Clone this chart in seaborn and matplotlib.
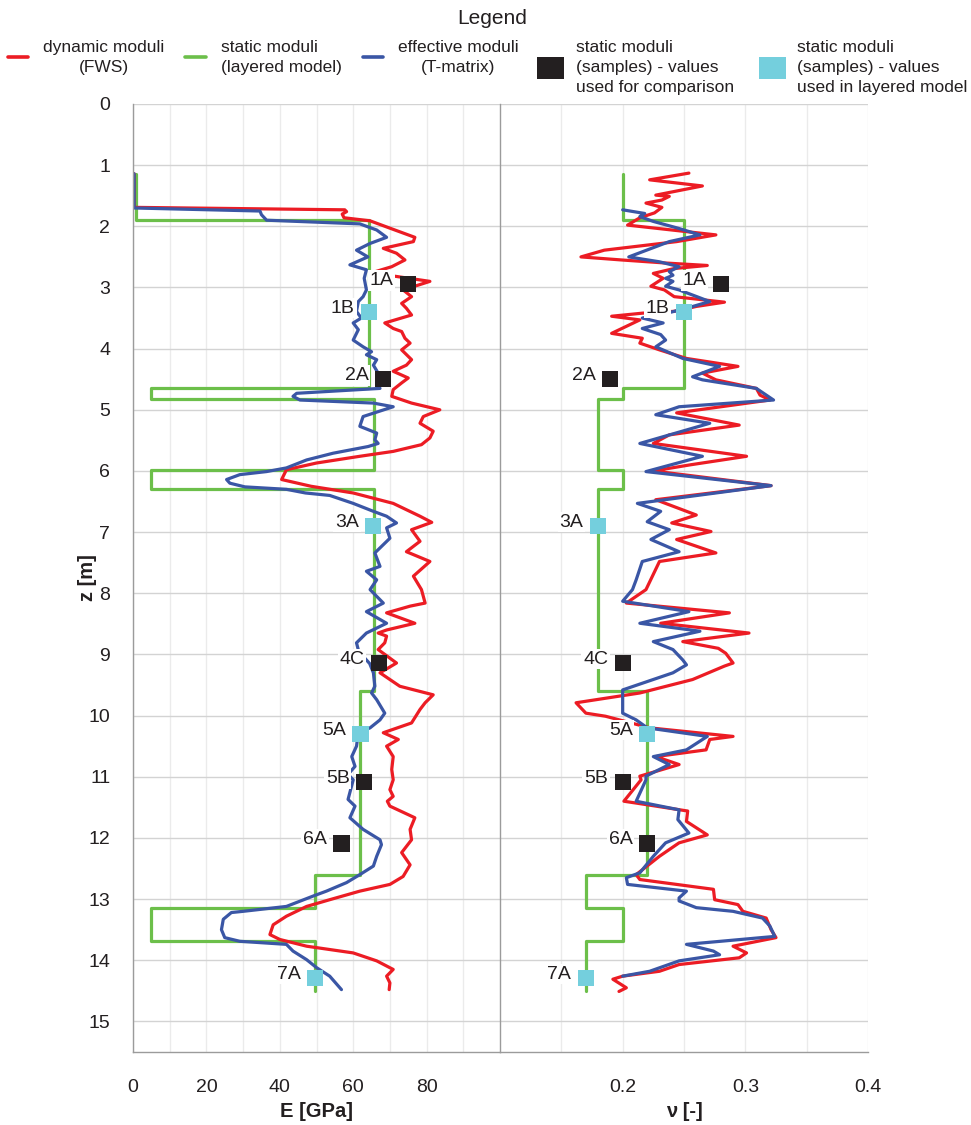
import numpy as np
import pandas as pd
import matplotlib
matplotlib.use("Agg")
import matplotlib.pyplot as plt
import seaborn as sns
from matplotlib.lines import Line2D
from matplotlib.patches import Patch
from matplotlib.ticker import MultipleLocator, FixedLocator

# ---------------- data ----------------
# dynamic Young's modulus (FWS), depth z [m] and E [GPa]
z_E_dyn = [1.14, 1.69, 1.73, 1.76, 1.80, 1.86, 1.91, 2.03, 2.18, 2.25, 2.36, 2.44, 2.55, 2.66, 2.76,
           2.90, 3.04, 3.15, 3.26, 3.34, 3.45, 3.58, 3.67, 3.72, 3.83, 3.91, 4.02, 4.18, 4.27, 4.37,
           4.48, 4.56, 4.67, 4.78, 4.89, 5.00, 5.11, 5.22, 5.35, 5.46, 5.57, 5.68, 5.76, 5.87, 5.98,
           6.14, 6.25, 6.36, 6.53, 6.74, 6.84, 6.96, 7.15, 7.32, 7.48, 7.72, 7.94, 8.16, 8.21, 8.32,
           8.49, 8.60, 8.65, 8.70, 8.81, 8.92, 9.14, 9.30, 9.52, 9.66, 9.79, 9.90, 10.12, 10.28, 10.39,
           10.50, 10.67, 10.88, 11.05, 11.21, 11.32, 11.40, 11.48, 11.67, 11.86, 12.03, 12.24, 12.44,
           12.63, 12.76, 12.87, 13.01, 13.12, 13.28, 13.42, 13.58, 13.66, 13.77, 13.88, 14.01, 14.15,
           14.26, 14.37, 14.48]
E_dyn = [0.3, 0.3, 57.7, 58.2, 57.0, 57.5, 64.6, 70.0, 76.8, 76.4, 68.2, 71.8, 74.1, 70.5, 65.0,
         80.9, 73.6, 75.9, 73.2, 74.5, 75.9, 68.6, 70.9, 73.2, 74.1, 75.5, 73.2, 75.9, 74.5, 70.9,
         75.0, 73.2, 70.9, 70.5, 75.9, 83.6, 79.1, 78.2, 81.8, 80.9, 78.6, 70.9, 61.8, 50.0, 41.8,
         40.5, 48.5, 60.0, 70.9, 78.2, 81.4, 75.9, 78.2, 74.5, 80.9, 76.4, 78.6, 79.6, 75.5, 69.1,
         76.8, 69.1, 66.8, 69.1, 68.6, 66.8, 71.8, 67.3, 72.7, 81.8, 79.6, 78.2, 75.9, 68.2, 72.3,
         69.1, 70.9, 70.5, 70.9, 70.0, 70.9, 69.3, 70.0, 76.8, 75.5, 75.9, 73.2, 75.5,
         73.6, 70.0, 61.8, 53.6, 47.3, 41.8, 38.2, 37.3, 40.0, 47.3, 60.0, 66.4, 70.9,
         69.1, 70.0, 69.8]

# effective Young's modulus (T-matrix)
z_E_eff = [1.14, 1.70, 1.75, 1.81, 1.90, 1.96, 2.06, 2.18, 2.28, 2.39, 2.50, 2.63, 2.71, 2.85,
           3.04, 3.15, 3.23, 3.39, 3.50, 3.58, 3.69, 3.86, 3.97, 4.05, 4.10, 4.18, 4.27, 4.40,
           4.56, 4.65, 4.73, 4.78, 4.84, 4.89, 4.95, 5.11, 5.27, 5.38, 5.49, 5.55, 5.60, 5.71,
           5.82, 5.95, 6.01, 6.06, 6.14, 6.20, 6.26, 6.30, 6.36, 6.40, 6.53, 6.66, 6.74, 6.85,
           6.93, 7.10, 7.34, 7.56, 7.64, 7.78, 7.94, 8.16, 8.30, 8.49, 8.65, 8.81, 8.95, 9.15,
           9.30, 9.52, 9.63, 9.74, 9.96, 10.07, 10.20, 10.28, 10.50, 10.67, 10.83, 10.96, 11.05,
           11.37, 11.48, 11.67, 11.86, 12.03, 12.11, 12.30, 12.46, 12.60, 12.73, 12.87, 12.95,
           13.12, 13.20, 13.22, 13.33, 13.50, 13.63, 13.69, 13.74, 13.85, 13.99, 14.12, 14.26, 14.48]
E_eff = [0.3, 0.3, 34.6, 35.0, 36.4, 61.8, 66.4, 69.1, 64.6, 60.9, 64.0, 59.1, 63.6, 63.0,
         63.6, 62.7, 61.4, 60.9, 62.2, 60.0, 61.4, 60.0, 62.7, 65.0, 63.6, 66.4, 65.5, 66.8,
         66.4, 67.3, 44.6, 43.6, 45.5, 65.5, 70.9, 62.7, 61.8, 66.4, 65.9, 66.8, 64.1, 54.5,
         47.3, 41.8, 36.4, 29.1, 25.5, 26.4, 30.5, 41.8, 47.0, 53.6, 60.0, 65.5, 69.1, 71.8,
         69.1, 70.0, 65.9, 67.3, 63.6, 66.4, 64.6, 68.2, 63.6, 69.1, 63.6, 60.9, 61.5, 64.5,
         65.5, 65.9, 65.0, 66.4, 68.6, 67.3, 64.6, 61.4, 60.9, 59.6, 60.5, 58.6, 60.0,
         58.6, 60.5, 59.1, 62.7, 67.3, 67.7, 66.4, 65.5, 61.8, 58.2, 52.7, 49.1,
         41.8, 30.0, 26.8, 24.6, 24.1, 25.0, 29.1, 41.8, 43.6, 47.3, 50.0, 53.6, 56.8]

# dynamic Poisson's ratio (FWS)
z_nu_dyn = [1.13, 1.24, 1.34, 1.49, 1.51, 1.57, 1.62, 1.69, 1.78, 1.86, 1.98, 2.14, 2.25, 2.39,
            2.50, 2.55, 2.60, 2.64, 2.69, 2.77, 2.85, 2.98, 3.04, 3.15, 3.24, 3.31, 3.39, 3.42,
            3.47, 3.53, 3.75, 3.83, 3.91, 4.02, 4.16, 4.29, 4.40, 4.51, 4.65, 4.76, 4.84, 5.05,
            5.25, 5.41, 5.55, 5.76, 5.90, 6.00, 6.24, 6.47, 6.72, 6.85, 6.99, 7.12, 7.34, 7.48,
            7.94, 8.16, 8.32, 8.49, 8.65, 8.79, 8.90, 8.98, 9.14, 9.19, 9.41, 9.63, 9.79, 9.96,
            10.01, 10.20, 10.34, 10.39, 10.56, 10.67, 10.80, 10.99, 11.05, 11.40, 11.43, 11.56,
            11.73, 11.95, 12.08, 12.30, 12.60, 12.68, 12.84, 13.01, 13.09, 13.20, 13.31, 13.50,
            13.63, 13.77, 13.88, 13.96, 14.07, 14.18, 14.26, 14.31, 14.45, 14.51]
nu_dyn = [0.254, 0.222, 0.265, 0.227, 0.238, 0.232, 0.219, 0.232, 0.226, 0.214, 0.204, 0.276, 0.244, 0.185,
          0.166, 0.199, 0.235, 0.269, 0.242, 0.225, 0.233, 0.223, 0.234, 0.242, 0.283, 0.260, 0.242, 0.216,
          0.191, 0.214, 0.191, 0.216, 0.214, 0.230, 0.252, 0.294, 0.265, 0.276, 0.309, 0.312, 0.320, 0.244,
          0.295, 0.238, 0.225, 0.301, 0.255, 0.225, 0.321, 0.227, 0.260, 0.240, 0.272, 0.244, 0.276, 0.230,
          0.219, 0.203, 0.287, 0.231, 0.303, 0.249, 0.278, 0.284, 0.290, 0.283, 0.257, 0.214, 0.162, 0.170,
          0.186, 0.222, 0.290, 0.271, 0.268, 0.227, 0.246, 0.214, 0.215, 0.201, 0.211, 0.253,
          0.252, 0.269, 0.246, 0.230, 0.211, 0.214, 0.274, 0.275, 0.294, 0.298, 0.317, 0.321,
          0.325, 0.290, 0.301, 0.295, 0.246, 0.230, 0.200, 0.192, 0.203, 0.197]

# effective Poisson's ratio (T-matrix)
z_nu_eff = [1.73, 1.79, 1.84, 1.92, 2.03, 2.14, 2.25, 2.50, 2.58, 2.66, 2.74, 2.80, 2.85, 2.90,
            2.98, 3.04, 3.23, 3.34, 3.40, 3.50, 3.58, 3.67, 3.77, 3.86, 3.97, 4.16, 4.29, 4.46,
            4.51, 4.65, 4.84, 4.95, 5.08, 5.22, 5.55, 5.76, 6.01, 6.24, 6.53, 6.66, 6.83, 6.96,
            7.12, 7.32, 7.48, 7.78, 7.94, 8.13, 8.30, 8.49, 8.62, 8.79, 8.92, 9.09, 9.17, 9.30,
            9.58, 9.96, 10.07, 10.20, 10.34, 10.56, 10.67, 10.80, 10.99, 11.05, 11.40, 11.54,
            11.70, 11.92, 12.08, 12.30, 12.57, 12.65, 12.76, 12.87, 12.98, 13.03, 13.14, 13.20,
            13.31, 13.44, 13.61, 13.74, 13.85, 13.91, 14.01, 14.18, 14.26]
nu_eff = [0.200, 0.218, 0.214, 0.225, 0.245, 0.263, 0.238, 0.205, 0.230, 0.246, 0.238, 0.241, 0.235, 0.241,
          0.235, 0.246, 0.271, 0.252, 0.240, 0.216, 0.233, 0.216, 0.231, 0.235, 0.227, 0.249, 0.279, 0.257,
          0.265, 0.309, 0.323, 0.246, 0.227, 0.271, 0.214, 0.265, 0.219, 0.321, 0.212, 0.231, 0.220, 0.238,
          0.223, 0.246, 0.216, 0.211, 0.208, 0.200, 0.254, 0.214, 0.263, 0.225, 0.241, 0.249, 0.252, 0.241,
          0.200, 0.200, 0.211, 0.220, 0.269, 0.252, 0.225, 0.238, 0.219, 0.219, 0.211, 0.246,
          0.245, 0.254, 0.235, 0.225, 0.214, 0.203, 0.204, 0.252, 0.246, 0.246, 0.260, 0.290,
          0.314, 0.320, 0.324, 0.252, 0.274, 0.279, 0.246, 0.222, 0.200]

# static moduli of the layered model
layer_bounds = [1.14, 1.90, 4.64, 4.83, 5.99, 6.29, 9.59, 12.60, 13.14, 13.69, 14.50]
E_layer = [0.8, 64.4, 5.0, 65.6, 5.0, 65.6, 61.8, 49.7, 5.0, 49.7]
nu_layer = [0.20, 0.25, 0.20, 0.18, 0.20, 0.18, 0.22, 0.17, 0.20, 0.17]

# static moduli of samples
sample_names = ["1A", "1B", "2A", "3A", "4C", "5A", "5B", "6A", "7A"]
sample_z = [2.95, 3.40, 4.50, 6.90, 9.14, 10.30, 11.09, 12.09, 14.29]
sample_E = [75.0, 64.4, 68.2, 65.5, 67.1, 62.0, 63.0, 56.8, 49.6]
sample_nu = [0.28, 0.25, 0.19, 0.18, 0.20, 0.22, 0.20, 0.22, 0.17]
sample_use = ["comparison", "layered", "comparison", "layered", "comparison",
              "layered", "comparison", "comparison", "layered"]

legend_labels = ["dynamic moduli\n(FWS)", "static moduli\n(layered model)",
                 "effective moduli\n(T-matrix)",
                 "static moduli\n(samples) - values\nused for comparison",
                 "static moduli\n(samples) - values\nused in layered model"]

# ---------------- style ----------------
RED = "#ec1c24"
GREEN = "#6cbf4a"
BLUE = "#3a56a5"
BLACK = "#231f20"
CYAN = "#74cfdd"
TXT = "#231f20"

sns.set_style("white")
plt.rcParams["font.family"] = ["Liberation Sans", "DejaVu Sans"]
plt.rcParams["text.color"] = TXT

W, H = 971, 1125
fig = plt.figure(figsize=(W / 100, H / 100), dpi=100)
fig.patch.set_facecolor("white")
axE = fig.add_axes([133 / W, 73 / H, 367 / W, 948 / H])
axN = fig.add_axes([500 / W, 73 / H, 368 / W, 948 / H])

def step_frame(values):
    zs, vs = [], []
    for i, v in enumerate(values):
        zs += [layer_bounds[i], layer_bounds[i + 1]]
        vs += [v, v]
    return pd.DataFrame({"z": zs, "v": vs})

samples = pd.DataFrame({"name": sample_names, "z": sample_z, "E": sample_E,
                        "nu": sample_nu, "use": sample_use})
pal = {"comparison": BLACK, "layered": CYAN}
LW = 2.3

# left panel: E
sns.lineplot(data=step_frame(E_layer), x="v", y="z", sort=False, orient="y", estimator=None,
             color=GREEN, lw=LW, ax=axE, zorder=2)
sns.lineplot(x=E_dyn, y=z_E_dyn, sort=False, orient="y", estimator=None,
             color=RED, lw=LW, ax=axE, zorder=2.2)
sns.lineplot(x=E_eff, y=z_E_eff, sort=False, orient="y", estimator=None,
             color=BLUE, lw=LW, ax=axE, zorder=2.4)
sns.scatterplot(data=samples, x="E", y="z", hue="use", palette=pal, marker="s", s=135,
                linewidth=0, legend=False, ax=axE, zorder=6)

# right panel: nu
sns.lineplot(data=step_frame(nu_layer), x="v", y="z", sort=False, orient="y", estimator=None,
             color=GREEN, lw=LW, ax=axN, zorder=2)
sns.lineplot(x=nu_dyn, y=z_nu_dyn, sort=False, orient="y", estimator=None,
             color=RED, lw=LW, ax=axN, zorder=2.2)
sns.lineplot(x=nu_eff, y=z_nu_eff, sort=False, orient="y", estimator=None,
             color=BLUE, lw=LW, ax=axN, zorder=2.4)
sns.scatterplot(data=samples, x="nu", y="z", hue="use", palette=pal, marker="s", s=135,
                linewidth=0, legend=False, ax=axN, zorder=6)

for ax, col in ((axE, "E"), (axN, "nu")):
    for _, r in samples.iterrows():
        ax.annotate(r["name"], (r[col], r["z"]), xytext=(-10.5, 2.8), textcoords="offset points",
                    ha="right", va="center", fontsize=14, color=TXT, zorder=5,
                    bbox=dict(facecolor="white", edgecolor="none", pad=1.2))

# axes styling
GRID_H = "#d3d3d3"
GRID_V = "#ebebeb"
SPINE = "#9b9b9b"
for ax in (axE, axN):
    ax.set_ylim(15.5, 0)
    ax.yaxis.set_major_locator(MultipleLocator(1))
    ax.yaxis.set_minor_locator(MultipleLocator(0.5))
    ax.set_axisbelow(True)
    ax.grid(False)
    ax.grid(which="major", axis="y", color=GRID_H, lw=1.0)
    ax.grid(which="both", axis="x", color=GRID_V, lw=1.0)
    for s in ("top", "right"):
        ax.spines[s].set_visible(False)
    for s in ("left", "bottom"):
        ax.spines[s].set_color(SPINE)
        ax.spines[s].set_linewidth(1.0)
    ax.tick_params(axis="x", which="both", direction="out", length=6.5, width=1.0,
                   color=SPINE, labelsize=14, labelcolor=TXT, pad=13)
    ax.set_ylabel("")
    ax.set_xlabel("")

axE.set_xlim(0, 100)
axE.xaxis.set_major_locator(FixedLocator([0, 20, 40, 60, 80]))
axE.xaxis.set_minor_locator(FixedLocator([10, 30, 50, 70, 90]))
axE.tick_params(axis="y", which="major", direction="out", length=10.8, width=1.0,
                color=SPINE, labelsize=14, labelcolor=TXT, pad=5.5)
axE.tick_params(axis="y", which="minor", direction="out", length=6.5, width=1.0, color=SPINE)

axN.set_xlim(0.1, 0.4)
axN.xaxis.set_major_locator(FixedLocator([0.2, 0.3, 0.4]))
axN.xaxis.set_minor_locator(FixedLocator([0.15, 0.25, 0.35]))
axN.xaxis.set_major_formatter(matplotlib.ticker.FuncFormatter(lambda v, p: f"{v:.1f}"))
axN.tick_params(axis="y", which="major", direction="inout", length=21.6, width=1.0,
                color=SPINE, labelleft=False)
axN.tick_params(axis="y", which="minor", direction="inout", length=13, width=1.0, color=SPINE)

axE.set_xlabel("E [GPa]", fontsize=14.5, fontweight="bold", color=TXT)
axN.set_xlabel("ν [-]", fontsize=14.5, fontweight="bold", color=TXT)
axE.xaxis.set_label_coords(0.5, -0.053)
axN.xaxis.set_label_coords(0.5, -0.053)
axE.set_ylabel("z [m]", fontsize=14.5, fontweight="bold", color=TXT)
axE.yaxis.set_label_coords(-0.097, 0.5)

# legend
fig.text(492 / W, 1 - 18 / H, "Legend", ha="center", va="center", fontsize=15, color=TXT)
handles = [Line2D([], [], color=RED, lw=2.6), Line2D([], [], color=GREEN, lw=2.6),
           Line2D([], [], color=BLUE, lw=2.6), Patch(facecolor=BLACK, edgecolor="none"),
           Patch(facecolor=CYAN, edgecolor="none")]
xs = [8, 185, 363, 537, 759]
hls = [1.15, 1.2, 1.15, 1.56, 1.56]
hhs = [0.7, 0.7, 0.7, 1.56, 1.56]
tps = [0.86, 0.86, 0.86, 0.68, 0.62]
centered = [True, False, True, False, False]
for h, lab, x, hl, hh, tp, c in zip(handles, legend_labels, xs, hls, hhs, tps, centered):
    leg = fig.legend([h], [lab], loc="upper left", bbox_to_anchor=(x / W, 1 - 40 / H),
                     bbox_transform=fig.transFigure, frameon=False, borderpad=0,
                     borderaxespad=0, handlelength=hl, handleheight=hh, handletextpad=tp,
                     fontsize=12.5, labelcolor=TXT)
    t = leg.get_texts()[0]
    t.set_linespacing(1.42)
    if c:
        t.set_multialignment("center")

fig.savefig("out.png", dpi=100, facecolor="white")
